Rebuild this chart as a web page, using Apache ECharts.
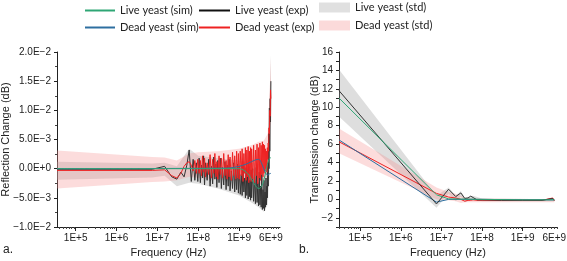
<!DOCTYPE html>
<html><head><meta charset="utf-8">
<script src="https://cdn.jsdelivr.net/npm/echarts@6/dist/echarts.min.js"></script>
<style>html,body{margin:0;padding:0;background:#fff}#c{width:567px;height:261px}</style>
</head><body><div id="c"></div>
<script>
// ---------- Panel a: Reflection change (dB) ----------
const freqExpR = [3.5e4, 7.5e6,
  1.5e7, 2.25e7, 3e7, 3.75e7, 4.5e7, 5.25e7, 6e7, 6.75e7, 7.5e7, 8.25e7, 9e7, 9.75e7,
  1.05e8, 1.125e8, 1.2e8, 1.275e8, 1.35e8, 1.425e8, 1.5e8, 1.65e8, 1.8e8, 1.95e8, 2.1e8, 2.25e8,
  2.4e8, 2.55e8, 2.7e8, 2.85e8, 3e8, 3.225e8, 3.45e8, 3.675e8, 3.9e8, 4.2e8, 4.5e8, 4.8e8,
  5.1e8, 5.4e8, 5.7e8, 6e8, 6.45e8, 6.9e8, 7.35e8, 7.8e8, 8.25e8, 8.7e8, 9.15e8, 9.6e8,
  1.005e9, 1.065e9, 1.125e9, 1.185e9, 1.245e9, 1.305e9, 1.365e9, 1.425e9, 1.485e9, 1.545e9, 1.605e9, 1.665e9, 1.725e9, 1.785e9, 1.845e9, 1.905e9, 1.965e9,
  2.025e9, 2.145e9, 2.265e9, 2.385e9, 2.505e9, 2.625e9, 2.745e9, 2.865e9, 2.985e9, 3.105e9, 3.225e9, 3.345e9, 3.465e9, 3.585e9, 3.705e9, 3.825e9, 3.945e9,
  4.065e9, 4.185e9, 4.305e9, 4.425e9, 4.545e9, 4.665e9, 4.785e9, 4.905e9, 5.025e9, 5.145e9, 5.265e9, 5.385e9, 5.505e9, 5.625e9, 5.745e9, 5.865e9, 5.985e9];
const liveExpR = [-0.0001, -0.0001,
  0.0004, -0.0014, -0.0018, -0.0006, -0.0014, 0.0006, 0.0032, -0.0022, 0.0016, -0.0020, 0.0010, -0.0022,
  0.0018, -0.0024, 0.0006, -0.0016, 0.0022, -0.0028, 0.0010, -0.0020, 0.0016, -0.0030, 0.0004, -0.0026,
  0.0020, -0.0018, 0.0008, -0.0032, 0.0014, -0.0024, 0.0018, -0.0034, 0.0002, -0.0028, 0.0012, -0.0036,
  0.0006, -0.0030, 0.0016, -0.0038, -0.0004, -0.0034, 0.0010, -0.0040, 0.0000, -0.0036, 0.0008, -0.0042,
  0.0004, -0.0044, -0.0010, -0.0046, 0.0006, -0.0040, -0.0016, -0.0050, 0.0002, -0.0046, -0.0008, -0.0052, 0.0004, -0.0048, -0.0020, -0.0054, -0.0002,
  -0.0050, 0.0000, -0.0056, -0.0014, -0.0060, 0.0002, -0.0058, -0.0024, -0.0064, -0.0006, -0.0062, -0.0030, -0.0066, -0.0010, -0.0070, -0.0036, -0.0068,
  -0.0020, -0.0072, -0.0040, -0.0066, -0.0016, -0.0062, -0.0030, -0.0050, 0.0010, -0.0030, 0.0060, 0.0000, 0.0104, 0.0030, 0.0120, 0.0080, 0.0150];
const deadExpR = [-0.0003, -0.0003,
  -0.0002, -0.0012, -0.0016, -0.0008, 0.0004, 0.0010, 0.0012, 0.0006, -0.0004, 0.0014, -0.0008, 0.0016,
  -0.0008, 0.0014, -0.0012, 0.0022, -0.0006, 0.0018, -0.0014, 0.0010, -0.0010, 0.0024, -0.0016, 0.0016,
  -0.0008, 0.0026, -0.0014, 0.0012, -0.0018, 0.0022, -0.0010, 0.0018, -0.0016, 0.0026, -0.0012, 0.0014,
  -0.0018, 0.0024, -0.0014, 0.0020, -0.0020, 0.0028, -0.0012, 0.0022, -0.0018, 0.0030, -0.0016, 0.0026,
  -0.0018, 0.0030, -0.0012, 0.0034, -0.0022, 0.0026, -0.0008, 0.0036, -0.0020, 0.0032, -0.0014, 0.0038, -0.0024, 0.0030, -0.0010, 0.0036, -0.0022,
  0.0034, -0.0018, 0.0040, -0.0024, 0.0032, -0.0012, 0.0042, -0.0026, 0.0036, -0.0016, 0.0044, -0.0020, 0.0040, -0.0010, 0.0046, -0.0014, 0.0042,
  -0.0008, 0.0040, -0.0004, 0.0034, 0.0000, 0.0030, -0.0006, 0.0036, 0.0016, 0.0044, 0.0030, 0.0070, 0.0060, 0.0100, 0.0090, 0.0135, 0.0120];
const liveSimFreqR = [3.5e4, 1e9, 1.5e9, 2e9, 2.5e9, 3e9, 3.5e9, 4e9, 4.5e9, 5e9, 5.5e9, 6e9];
const liveSimR = [0, 0, -0.0006, -0.0018, -0.0029, -0.0034, -0.0031, -0.0020, -0.0005, 0.0009, 0.0017, 0.0019];
const deadSimFreqR = [3.5e4, 5e8, 1e9, 1.5e9, 2e9, 2.5e9, 3e9, 3.5e9, 4e9, 4.5e9, 5e9, 5.5e9, 6e9];
const deadSimR = [0, 0.0001, 0.0004, 0.0008, 0.0012, 0.0015, 0.0016, 0.0010, 0.0000, -0.0008, -0.0011, -0.0009, -0.0008];
const stdFreqR = [3.5e4, 7.5e6, 1.5e7, 3e7, 6e7, 1e8, 3e8, 1e9, 2e9, 3e9, 4e9, 5e9, 5.5e9, 6e9];
const deadStdLoR = [-0.0034, -0.0023, -0.0022, -0.0020, -0.0014, -0.0016, -0.0018, -0.0022, -0.0026, -0.0028, -0.0022, -0.0010, 0.0020, 0.0090];
const deadStdHiR = [0.0031, 0.0020, 0.0019, 0.0014, 0.0026, 0.0028, 0.0030, 0.0034, 0.0040, 0.0046, 0.0048, 0.0060, 0.0120, 0.0190];
const liveStdLoR = [-0.0019, -0.0015, -0.0012, -0.0030, -0.0024, -0.0026, -0.0034, -0.0046, -0.0058, -0.0066, -0.0074, -0.0062, -0.0020, 0.0080];
const liveStdHiR = [0.0012, 0.0009, 0.0010, 0.0004, 0.0034, 0.0022, 0.0018, 0.0014, 0.0010, 0.0008, 0.0006, 0.0030, 0.0110, 0.0195];
const yTickLabelsR = ['\u22121.0E\u22122', '\u22125.0E\u22123', '0.0E+0', '5.0E\u22123', '1.0E\u22122', '1.5E\u22122', '2.0E\u22122'];

// ---------- Panel b: Transmission change (dB) ----------
const freqExpT = [3e4, 7.53e6, 1.5e7, 2.25e7, 3e7, 3.75e7, 4.5e7, 5.25e7, 6e7, 7.5e7, 1e8, 3e8, 1e9, 3e9, 5.5e9, 6e9];
const liveExpT = [11.8, -0.5, 1.1, 0.3, 0.7, 0.1, 0.15, 0.35, 0.2, -0.05, -0.05, -0.1, -0.1, -0.1, 0.1, -0.1];
const deadExpT = [6.25, 0.65, 0.25, 0.15, 0.0, -0.2, -0.1, -0.1, -0.05, -0.1, -0.1, -0.1, -0.1, -0.1, 0.15, -0.15];
const simFreqT = [3e4, 7.53e6, 1.5e7, 1e8, 1e9, 6e9];
const liveSimT = [11.0, 0.5, 0.05, 0.0, -0.05, -0.05];
const deadSimT = [6.45, -0.3, 0.0, 0.0, -0.05, -0.05];
const stdFreqT = [3e4, 7.53e6, 1.5e7, 2.25e7, 3e7, 3.75e7, 6e7, 1e8, 6e9];
const liveStdLoT = [9.0, -0.9, 0.6, -0.2, 0.3, -0.3, 0.0, -0.2, -0.2];
const liveStdHiT = [14.1, 0.4, 1.3, 0.4, 0.9, 0.2, 0.4, 0.1, 0.0];
const deadStdLoT = [5.0, 0.0, -0.1, -0.2, -0.4, -0.3, -0.3, -0.3, -0.3];
const deadStdHiT = [7.7, 1.3, 0.8, 0.6, 0.4, 0.2, 0.1, 0.1, 0.0];
const yTickLabelsT = ['\u22122', '0', '2', '4', '6', '8', '10', '12', '14', '16'];

// ---------- shared x ticks ----------
const xLabelValues = [1e5, 1e6, 1e7, 1e8, 1e9, 6e9];
const xLabelTexts = ['1E+5', '1E+6', '1E+7', '1E+8', '1E+9', '6E+9'];
const xMajorTicks = [1e5, 1e6, 1e7, 1e8, 1e9];
const xMinorTicks = [];
for (let e = 4; e <= 9; e++) for (let m = 2; m <= 9; m++) xMinorTicks.push(m * Math.pow(10, e));

const C = {
  liveSim: '#2fa675', deadSim: '#2e6fa0', liveExp: '#333333', deadExp: '#ee2222',
  liveStd: 'rgba(160,160,160,0.35)', deadStd: 'rgba(245,140,140,0.30)',
  liveStdLeg: '#e0e0e0', deadStdLeg: '#fbdada'
};
const FONT = 'Liberation Sans';

function pairs(fx, vy) { return fx.map((f, i) => [f, vy[i]]); }
function lineS(name, fx, vy, color, xi, yi, smooth) {
  return { name, type: 'line', xAxisIndex: xi, yAxisIndex: yi, data: pairs(fx, vy), symbol: 'none', z: 3,
    smooth: smooth || false, lineStyle: { color, width: 1 }, itemStyle: { color }, silent: true };
}
// std band: polygon through upper values forward and lower values backward, placed with api.coord
function bandS(name, fx, lo, hi, color, xi, yi) {
  return { name, type: 'custom', xAxisIndex: xi, yAxisIndex: yi, z: 1, silent: true, clip: true,
    itemStyle: { color },
    data: fx.map((f, i) => [f, lo[i], hi[i]]),
    encode: { x: 0, y: [1, 2] },
    renderItem: function (params, api) {
      if (params.dataIndex !== 0) return null;
      const pts = [];
      for (let i = 0; i < fx.length; i++) pts.push(api.coord([fx[i], hi[i]]));
      for (let i = fx.length - 1; i >= 0; i--) pts.push(api.coord([fx[i], lo[i]]));
      return { type: 'polygon', shape: { points: pts }, style: { fill: color } };
    } };
}
function labelFor(v) {
  let best = 0, bd = 1e9;
  xLabelValues.forEach((t, i) => { const d = Math.abs(Math.log10(v) - Math.log10(t)); if (d < bd) { bd = d; best = i; } });
  return xLabelTexts[best];
}
function xAxes(grid, min, max) {
  return [
    { type: 'log', gridIndex: grid, min, max, position: 'bottom',
      axisLine: { onZero: false, lineStyle: { color: '#222', width: 1 } },
      axisTick: { show: true, customValues: xMajorTicks, length: 4, lineStyle: { color: '#222' } },
      axisLabel: { customValues: xLabelValues, formatter: labelFor, fontSize: 10, fontFamily: FONT, color: '#222', margin: 6, hideOverlap: false },
      splitLine: { show: false }, minorTick: { show: false },
      name: 'Frequency (Hz)', nameLocation: 'middle', nameGap: 19,
      nameTextStyle: { fontSize: 11, fontFamily: FONT, color: '#222' } },
    { type: 'log', gridIndex: grid, min, max, position: 'bottom',
      axisLine: { show: false, onZero: false },
      axisTick: { show: true, customValues: xMinorTicks, length: 2, lineStyle: { color: '#444' } },
      axisLabel: { show: false }, splitLine: { show: false } }
  ];
}

const series = [
  bandS('Live yeast (std)', stdFreqR, liveStdLoR, liveStdHiR, C.liveStd, 0, 0),
  bandS('Dead yeast (std)', stdFreqR, deadStdLoR, deadStdHiR, C.deadStd, 0, 0),
  lineS('Live yeast (exp)', freqExpR, liveExpR, C.liveExp, 0, 0),
  lineS('Dead yeast (exp)', freqExpR, deadExpR, C.deadExp, 0, 0),
  lineS('Dead yeast (sim)', deadSimFreqR, deadSimR, C.deadSim, 0, 0, 0.35),
  lineS('Live yeast (sim)', liveSimFreqR, liveSimR, C.liveSim, 0, 0, 0.35),
  bandS('Live yeast (std)', stdFreqT, liveStdLoT, liveStdHiT, C.liveStd, 2, 1),
  bandS('Dead yeast (std)', stdFreqT, deadStdLoT, deadStdHiT, C.deadStd, 2, 1),
  lineS('Dead yeast (exp)', freqExpT, deadExpT, C.deadExp, 2, 1),
  lineS('Dead yeast (sim)', simFreqT, deadSimT, C.deadSim, 2, 1),
  lineS('Live yeast (exp)', freqExpT, liveExpT, C.liveExp, 2, 1),
  lineS('Live yeast (sim)', simFreqT, liveSimT, C.liveSim, 2, 1)
];

const legText = { fontFamily: 'Lato', fontSize: 11, color: '#222' };
const legBase = { top: 0, orient: 'vertical', itemWidth: 30, itemHeight: 10, itemGap: 5, padding: 0,
  textStyle: legText, selectedMode: false };
function lineItem(name, color) { return { name, icon: 'rect', itemStyle: { color } }; }

const option = {
  animation: false,
  backgroundColor: '#fff',
  grid: [
    { left: 57, top: 52, width: 223, height: 175, outerBoundsMode: 'none', containLabel: false },
    { left: 339, top: 52, width: 218, height: 175, outerBoundsMode: 'none', containLabel: false }
  ],
  legend: [
    Object.assign({}, legBase, { left: 85, itemHeight: 2, top: 5, itemGap: 6,
      data: [lineItem('Live yeast (sim)', C.liveSim), lineItem('Dead yeast (sim)', C.deadSim)] }),
    Object.assign({}, legBase, { left: 199, itemWidth: 31, itemHeight: 2, top: 5, itemGap: 6,
      data: [lineItem('Live yeast (exp)', '#111'), lineItem('Dead yeast (exp)', C.deadExp)] }),
    Object.assign({}, legBase, { left: 319, itemWidth: 31, top: 2, itemGap: 7, data: [
      { name: 'Live yeast (std)', icon: 'rect', itemStyle: { color: C.liveStdLeg } },
      { name: 'Dead yeast (std)', icon: 'rect', itemStyle: { color: C.deadStdLeg } }] })
  ],
  xAxis: [].concat(xAxes(0, 3.5e4, 1e10), xAxes(1, 3e4, 7e9)),
  yAxis: [
    { type: 'value', gridIndex: 0, min: -0.01, max: 0.02, interval: 0.005,
      axisLine: { show: true, onZero: false, lineStyle: { color: '#222' } },
      axisTick: { show: true, length: 3, lineStyle: { color: '#222' } },
      minorTick: { show: true, splitNumber: 2, length: 2, lineStyle: { color: '#444' } },
      axisLabel: { fontSize: 10, fontFamily: FONT, color: '#222', margin: 6,
        formatter: v => yTickLabelsR[Math.round((v + 0.01) / 0.005)] },
      splitLine: { show: false },
      name: 'Reflection Change (dB)', nameLocation: 'middle', nameGap: 46, nameMoveOverlap: false,
      nameTextStyle: { fontSize: 11, fontFamily: FONT, color: '#222' } },
    { type: 'value', gridIndex: 1, min: -3, max: 16, interval: 1,
      axisLine: { show: true, onZero: false, lineStyle: { color: '#222' } },
      axisTick: { show: true, length: 3, lineStyle: { color: '#222' } },
      axisLabel: { fontSize: 10, fontFamily: FONT, color: '#222', margin: 6,
        formatter: v => (Math.round(v) % 2 === 0 ? yTickLabelsT[(Math.round(v) + 2) / 2] : '') },
      splitLine: { show: false },
      name: 'Transmission change (dB)', nameLocation: 'middle', nameGap: 19, nameMoveOverlap: false,
      nameTextStyle: { fontSize: 11, fontFamily: FONT, color: '#222' } }
  ],
  graphic: [
    { type: 'text', left: 3, top: 244, style: { text: 'a.', fontSize: 12, fontFamily: FONT, fill: '#222' } },
    { type: 'text', left: 299, top: 244, style: { text: 'b.', fontSize: 12, fontFamily: FONT, fill: '#222' } }
  ],
  series
};
const chart = echarts.init(document.getElementById('c'), null, { renderer: 'canvas' });
chart.setOption(option);
</script></body></html>
